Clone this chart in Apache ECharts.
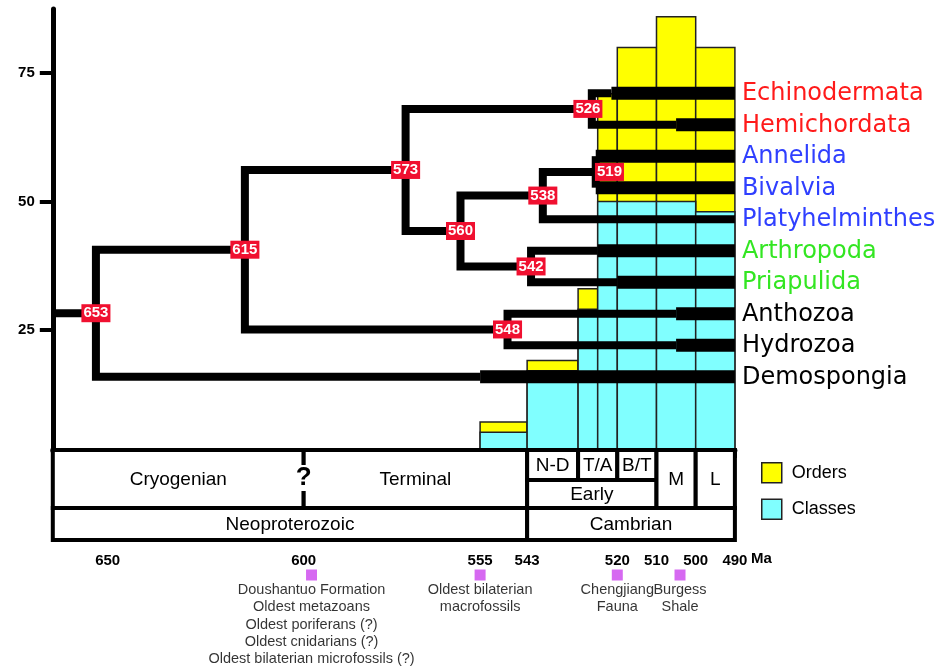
<!DOCTYPE html>
<html>
<head>
<meta charset="utf-8">
<title>Metazoan divergence times</title>
<script src="https://cdn.jsdelivr.net/npm/echarts@6/dist/echarts.min.js"></script>
<style>
  html, body { margin: 0; padding: 0; background: #fff; }
  #chart { width: 945px; height: 666px; }
</style>
</head>
<body>
<div id="chart"></div>
<script>
// time bins in Ma, number of orders / classes per bin
const binStart = [555, 543, 530, 525, 520, 510, 500];
const binEnd = [543, 530, 525, 520, 510, 500, 490];
const orders = [7, 19, 33, 71, 80, 86, 80];
const classes = [5, 17, 29, 50, 50, 50, 48];

// taxa, top to bottom, and first fossil (start of thick range)
const taxa = ['Echinodermata', 'Hemichordata', 'Annelida', 'Bivalvia', 'Platyhelminthes',
  'Arthropoda', 'Priapulida', 'Anthozoa', 'Hydrozoa', 'Demospongia'];
const taxonColor = ['#ff1a1a', '#ff1a1a', '#2f3fff', '#2f3fff', '#2f3fff',
  '#33e622', '#33e622', '#000', '#000', '#000'];
const firstFossil = [521.5, 505, 525.5, 525.5, null, 525, 520, 505, 505, 555];

// divergence nodes (age label; "at" = where it is drawn when it differs)
const tree = { age: 653, kids: [
  { age: 615, kids: [
    { age: 573, at: 574, kids: [
      { age: 526, at: 526.5, labelAt: 527.5, kids: ['Echinodermata', 'Hemichordata'] },
      { age: 560, kids: [
        { age: 538, at: 539, kids: [
          { age: 519, at: 525.5, labelAt: 522, kids: ['Annelida', 'Bivalvia'] },
          'Platyhelminthes'] },
        { age: 542, kids: ['Arthropoda', 'Priapulida'] }] }] },
    { age: 548, kids: ['Anthozoa', 'Hydrozoa'] }] },
  'Demospongia'] };

const yTicks = [25, 50, 75];
const maTicks = [650, 600, 555, 543, 520, 510, 500, 490];

// geological time scale
const stageName = ['Cryogenian', 'Terminal', 'N-D', 'T/A', 'B/T', 'Early', 'M', 'L', 'Neoproterozoic', 'Cambrian'];
const stageFrom = [664, 600, 543, 530, 520, 543, 510, 500, 664, 543];
const stageTo = [600, 543, 530, 520, 510, 510, 500, 490, 543, 490];
const stageLevel = ['full', 'full', 'upper', 'upper', 'upper', 'lower', 'full', 'full', 'era', 'era'];
const uncertainBoundary = [600];

const siteAt = [598, 555, 520, 504];
const siteText = [
  'Doushantuo Formation\nOldest metazoans\nOldest poriferans (?)\nOldest cnidarians (?)\nOldest bilaterian microfossils (?)',
  'Oldest bilaterian\nmacrofossils',
  'Chengjiang\nFauna',
  'Burgess\nShale'
];

// layout
const MA_OLD = 664, MA_YOUNG = 490;
const ROW_TOP = 71.1, ROW_STEP = 6.14;
const THIN = 8, THICK = 13;
const band = { upper: [0, 30], lower: [30, 58], full: [0, 58], era: [58, 90] };
const FONT = '"Liberation Sans", Arial, sans-serif';

function layout(n) {
  if (typeof n === 'string') {
    const i = taxa.indexOf(n);
    return { leaf: true, i: i, y: ROW_TOP - i * ROW_STEP, x: firstFossil[i] == null ? MA_YOUNG : firstFossil[i] };
  }
  const kids = n.kids.map(layout);
  const x = n.at == null ? n.age : n.at;
  return { age: n.age, x: x, labelAt: n.labelAt == null ? x : n.labelAt, kids: kids, y: (kids[0].y + kids[1].y) / 2 };
}
const root = layout(tree);

const branchData = [];
const nodeData = [];
branchData.push([MA_OLD, root.y, root.x, root.y, root.x, root.y, root.x, root.y, THIN]);
(function walk(n) {
  if (n.leaf) return;
  const a = n.kids[0], b = n.kids[1];
  branchData.push([a.x, a.y, n.x, a.y, n.x, b.y, b.x, b.y, THIN]);
  nodeData.push([n.labelAt, n.y, n.age]);
  n.kids.forEach(walk);
})(root);
taxa.forEach((t, i) => {
  if (firstFossil[i] == null) return;
  const y = ROW_TOP - i * ROW_STEP;
  branchData.push([firstFossil[i], y, MA_YOUNG, y, MA_YOUNG, y, MA_YOUNG, y, THICK]);
});

function barItem(color) {
  return function (params, api) {
    const p0 = api.coord([api.value(0), 0]);
    const p1 = api.coord([api.value(1), api.value(2)]);
    return {
      type: 'rect',
      shape: { x: p0[0], y: p1[1], width: p1[0] - p0[0], height: p0[1] - p1[1] },
      style: { fill: color, stroke: '#222', lineWidth: 1.5 }
    };
  };
}

const xBase = { type: 'value', min: MA_YOUNG, max: MA_OLD, inverse: true, splitLine: { show: false } };
const hiddenX = Object.assign({}, xBase, { show: false });

const chart = echarts.init(document.getElementById('chart'));
chart.setOption({
  animation: false,
  backgroundColor: '#fff',
  textStyle: { fontFamily: FONT },
  grid: [
    { left: 52.8, right: 210.1, top: 9, bottom: 208 },
    { left: 52.8, right: 210.1, top: 450, bottom: 126 },
    { left: 52.8, right: 210.1, top: 575, bottom: 40 }
  ],
  xAxis: [
    Object.assign({}, hiddenX, { gridIndex: 0 }),
    Object.assign({}, xBase, {
      gridIndex: 1,
      axisLine: { lineStyle: { color: '#000', width: 5 } },
      axisTick: { customValues: maTicks, length: 8, lineStyle: { color: '#000', width: 4 } },
      axisLabel: { customValues: maTicks, margin: 13, color: '#000', fontWeight: 'bold', fontSize: 15 }
    }),
    Object.assign({}, hiddenX, { gridIndex: 2 })
  ],
  yAxis: [
    {
      gridIndex: 0, type: 'value', min: 0, max: 87.5,
      splitLine: { show: false },
      axisLine: { show: true, lineStyle: { color: '#000', width: 5 } },
      axisTick: { show: true, customValues: yTicks, length: 13, lineStyle: { color: '#000', width: 4 } },
      axisLabel: { customValues: yTicks, margin: 18, color: '#000', fontWeight: 'bold', fontSize: 15 }
    },
    { gridIndex: 1, type: 'value', min: 0, max: 90, inverse: true, show: false },
    { gridIndex: 2, type: 'value', min: 0, max: 1, inverse: true, show: false }
  ],
  legend: {
    orient: 'vertical',
    left: 756,
    top: 457,
    icon: 'rect',
    itemWidth: 20,
    itemHeight: 20,
    itemGap: 15,
    textStyle: { fontSize: 18, color: '#000', padding: [0, 0, 0, 5] },
    data: [
      { name: 'Orders', itemStyle: { color: '#ffff00', borderColor: '#222', borderWidth: 1.5 } },
      { name: 'Classes', itemStyle: { color: '#80ffff', borderColor: '#222', borderWidth: 1.5 } }
    ]
  },
  series: [
    {
      name: 'Orders', type: 'custom', xAxisIndex: 0, yAxisIndex: 0, z: 2,
      itemStyle: { color: '#ffff00' },
      renderItem: barItem('#ffff00'),
      data: binStart.map((s, i) => [s, binEnd[i], orders[i]])
    },
    {
      name: 'Classes', type: 'custom', xAxisIndex: 0, yAxisIndex: 0, z: 2,
      itemStyle: { color: '#80ffff' },
      renderItem: barItem('#80ffff'),
      data: binStart.map((s, i) => [s, binEnd[i], classes[i]])
    },
    {
      name: 'tree', type: 'custom', xAxisIndex: 0, yAxisIndex: 0, z: 3,
      renderItem: function (params, api) {
        const pts = [];
        for (let k = 0; k < 4; k++) pts.push(api.coord([api.value(2 * k), api.value(2 * k + 1)]));
        return {
          type: 'polyline',
          shape: { points: pts },
          style: { stroke: '#000', fill: null, lineWidth: api.value(8), lineJoin: 'miter', lineCap: 'butt' }
        };
      },
      data: branchData
    },
    {
      name: 'nodes', type: 'custom', xAxisIndex: 0, yAxisIndex: 0, z: 4,
      renderItem: function (params, api) {
        const p = api.coord([api.value(0), api.value(1)]);
        return {
          type: 'text', x: p[0], y: p[1],
          style: {
            text: String(api.value(2)), fill: '#fff', fontSize: 15, fontWeight: 'bold', fontFamily: FONT,
            align: 'center', verticalAlign: 'middle', backgroundColor: '#f01030', padding: [2, 2, 1, 2]
          }
        };
      },
      data: nodeData
    },
    {
      name: 'taxa', type: 'custom', xAxisIndex: 0, yAxisIndex: 0, z: 4,
      renderItem: function (params, api) {
        const i = params.dataIndex;
        const p = api.coord([api.value(0), api.value(1)]);
        return {
          type: 'text', x: p[0] + 7, y: p[1] + 1,
          style: {
            text: taxa[i], fill: taxonColor[i], fontSize: 24, fontFamily: '"DejaVu Sans", sans-serif',
            align: 'left', verticalAlign: 'middle'
          }
        };
      },
      data: taxa.map((t, i) => [MA_YOUNG, ROW_TOP - i * ROW_STEP])
    },
    {
      name: 'timescale', type: 'custom', xAxisIndex: 1, yAxisIndex: 1, z: 5,
      renderItem: function (params, api) {
        const i = params.dataIndex;
        const b = band[stageLevel[i]];
        const p0 = api.coord([api.value(0), b[0]]);
        const p1 = api.coord([api.value(1), b[1]]);
        return {
          type: 'group',
          children: [
            {
              type: 'rect',
              shape: { x: p0[0], y: p0[1], width: p1[0] - p0[0], height: p1[1] - p0[1] },
              style: { fill: '#fff', stroke: '#000', lineWidth: 4 }
            },
            {
              type: 'text', x: (p0[0] + p1[0]) / 2, y: (p0[1] + p1[1]) / 2 + 1,
              style: { text: stageName[i], fill: '#000', fontSize: 19, fontFamily: FONT, align: 'center', verticalAlign: 'middle' }
            }
          ]
        };
      },
      data: stageFrom.map((f, i) => [f, stageTo[i]])
    },
    {
      name: 'uncertain', type: 'custom', xAxisIndex: 1, yAxisIndex: 1, z: 6,
      renderItem: function (params, api) {
        const p = api.coord([api.value(0), 28]);
        return {
          type: 'text', x: p[0], y: p[1],
          style: {
            text: '?', fill: '#000', fontSize: 26, fontWeight: 'bold', fontFamily: FONT,
            align: 'center', verticalAlign: 'middle', backgroundColor: '#fff', padding: [0, 1]
          }
        };
      },
      data: uncertainBoundary.map(x => [x])
    },
    {
      // unit after the last tick label
      name: 'unit', type: 'custom', xAxisIndex: 1, yAxisIndex: 1, z: 6,
      renderItem: function (params, api) {
        const p = api.coord([api.value(0), 90]);
        return {
          type: 'text', x: p[0] + 16, y: p[1] + 19,
          style: { text: 'Ma', fill: '#000', fontSize: 15, fontWeight: 'bold', fontFamily: FONT, align: 'left', verticalAlign: 'middle' }
        };
      },
      data: [[MA_YOUNG]]
    },
    {
      name: 'sites', type: 'scatter', xAxisIndex: 2, yAxisIndex: 2, z: 4,
      symbol: 'rect', symbolSize: 11,
      itemStyle: { color: '#cc44ee' },
      label: {
        show: true, position: 'bottom', distance: 1, color: '#000', fontSize: 14.5, lineHeight: 17.3, align: 'center'
      },
      data: siteAt.map((x, i) => ({ value: [x, 0], label: { formatter: siteText[i] } }))
    }
  ]
});
</script>
</body>
</html>
